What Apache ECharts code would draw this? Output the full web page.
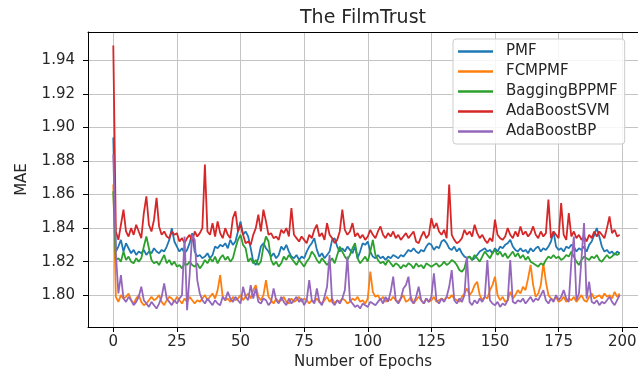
<!DOCTYPE html>
<html>
<head>
<meta charset="utf-8">
<title>The FilmTrust</title>
<script src="https://cdn.jsdelivr.net/npm/echarts@6/dist/echarts.min.js"></script>
<style>
  html, body { margin: 0; padding: 0; background: #ffffff; }
  #chart { width: 638px; height: 371px; }
</style>
</head>
<body>
<div id="chart"></div>
<script>
// MAE per training epoch (0..199) for each method on FilmTrust
const seriesNames = ['PMF', 'FCMPMF', 'BaggingBPPMF', 'AdaBoostSVM', 'AdaBoostBP'];
const seriesColors = ['#1f77b4', '#ff7f0e', '#2ca02c', '#d62728', '#9467bd'];

const pmf = [
  1.894, 1.826, 1.829, 1.833, 1.826, 1.831, 1.828, 1.825, 1.827, 1.824,
  1.826, 1.825, 1.827, 1.824, 1.826, 1.825, 1.828, 1.826, 1.825, 1.827,
  1.826, 1.829, 1.833, 1.840, 1.832, 1.829, 1.826, 1.828, 1.825, 1.827,
  1.831, 1.837, 1.826, 1.823, 1.824, 1.822, 1.823, 1.825, 1.822, 1.824,
  1.829, 1.828, 1.830, 1.829, 1.831, 1.828, 1.833, 1.830, 1.832, 1.838,
  1.844, 1.836, 1.838, 1.835, 1.828, 1.820, 1.818, 1.822, 1.829, 1.831,
  1.828, 1.826, 1.823, 1.825, 1.822, 1.824, 1.829, 1.827, 1.830, 1.826,
  1.823, 1.822, 1.824, 1.821, 1.823, 1.822, 1.826, 1.829, 1.831, 1.834,
  1.827, 1.823, 1.825, 1.822, 1.824, 1.826, 1.833, 1.834, 1.829, 1.826,
  1.828, 1.826, 1.829, 1.827, 1.825, 1.829, 1.822, 1.826, 1.831, 1.830,
  1.832, 1.826, 1.823, 1.822, 1.824, 1.822, 1.823, 1.821, 1.823, 1.822,
  1.824, 1.823, 1.822, 1.824, 1.823, 1.825, 1.827, 1.826, 1.828, 1.826,
  1.825, 1.827, 1.826, 1.829, 1.831, 1.830, 1.827, 1.829, 1.828, 1.832,
  1.833, 1.831, 1.828, 1.827, 1.829, 1.826, 1.828, 1.825, 1.823, 1.822,
  1.823, 1.821, 1.822, 1.824, 1.826, 1.827, 1.828, 1.826, 1.827, 1.825,
  1.828, 1.826, 1.829, 1.828, 1.830, 1.831, 1.833, 1.829, 1.827, 1.826,
  1.828, 1.826, 1.827, 1.825, 1.828, 1.826, 1.828, 1.829, 1.826, 1.828,
  1.827, 1.829, 1.832, 1.838, 1.829, 1.827, 1.828, 1.826, 1.829, 1.828,
  1.830, 1.829, 1.826, 1.828, 1.827, 1.829, 1.826, 1.830, 1.832, 1.836,
  1.840, 1.835, 1.829, 1.826, 1.827, 1.825, 1.826, 1.824, 1.826, 1.825
];

const fcmpmf = [
  1.866, 1.799, 1.796, 1.800, 1.798, 1.799, 1.801, 1.797, 1.795, 1.798,
  1.800, 1.796, 1.794, 1.795, 1.797, 1.799, 1.797, 1.798, 1.800, 1.796,
  1.794, 1.797, 1.799, 1.798, 1.796, 1.799, 1.797, 1.795, 1.798, 1.796,
  1.799, 1.797, 1.795, 1.797, 1.796, 1.798, 1.800, 1.797, 1.799, 1.801,
  1.798, 1.803, 1.812, 1.799, 1.797, 1.798, 1.796, 1.799, 1.797, 1.798,
  1.800, 1.797, 1.799, 1.801, 1.798, 1.803, 1.806, 1.799, 1.797, 1.800,
  1.809, 1.799, 1.797, 1.795, 1.798, 1.796, 1.797, 1.799, 1.796, 1.795,
  1.798, 1.796, 1.797, 1.799, 1.796, 1.798, 1.797, 1.795, 1.797, 1.796,
  1.798, 1.796, 1.795, 1.797, 1.799, 1.796, 1.798, 1.795, 1.797, 1.796,
  1.798, 1.797, 1.795, 1.796, 1.798, 1.797, 1.799, 1.796, 1.797, 1.795,
  1.798, 1.814, 1.802, 1.799, 1.800, 1.797, 1.799, 1.796, 1.798, 1.797,
  1.799, 1.797, 1.796, 1.798, 1.800, 1.796, 1.797, 1.799, 1.795, 1.797,
  1.799, 1.797, 1.795, 1.798, 1.796, 1.797, 1.799, 1.796, 1.797, 1.798,
  1.797, 1.799, 1.798, 1.800, 1.798, 1.797, 1.796, 1.799, 1.801, 1.804,
  1.800, 1.802, 1.806, 1.808, 1.800, 1.797, 1.799, 1.798, 1.803, 1.806,
  1.811, 1.800, 1.797, 1.799, 1.796, 1.797, 1.802, 1.798, 1.800, 1.803,
  1.801, 1.805, 1.803, 1.810, 1.818, 1.806, 1.799, 1.801, 1.806, 1.819,
  1.808, 1.800, 1.798, 1.797, 1.799, 1.796, 1.797, 1.799, 1.796, 1.798,
  1.797, 1.799, 1.796, 1.798, 1.800, 1.797, 1.796, 1.799, 1.801, 1.798,
  1.799, 1.800, 1.798, 1.801, 1.799, 1.800, 1.798, 1.802, 1.799, 1.801
];

const baggingBPPMF = [
  1.862, 1.821, 1.822, 1.820, 1.826, 1.821, 1.823, 1.820, 1.819, 1.822,
  1.820, 1.822, 1.829, 1.835, 1.828, 1.821, 1.819, 1.820, 1.818, 1.821,
  1.824, 1.819, 1.821, 1.818, 1.820, 1.817, 1.818, 1.816, 1.819, 1.818,
  1.820, 1.818, 1.817, 1.819, 1.816, 1.818, 1.821, 1.819, 1.822, 1.820,
  1.823, 1.819, 1.822, 1.824, 1.821, 1.823, 1.820, 1.822, 1.828, 1.833,
  1.836, 1.830, 1.828, 1.820, 1.822, 1.819, 1.821, 1.818, 1.820, 1.829,
  1.835, 1.832, 1.821, 1.818, 1.820, 1.817, 1.819, 1.823, 1.821, 1.824,
  1.822, 1.820, 1.818, 1.821, 1.819, 1.817, 1.820, 1.822, 1.826, 1.824,
  1.821, 1.819, 1.822, 1.820, 1.818, 1.820, 1.822, 1.819, 1.824, 1.829,
  1.826, 1.823, 1.821, 1.824, 1.828, 1.831, 1.822, 1.819, 1.821, 1.823,
  1.820, 1.826, 1.833, 1.824, 1.821, 1.819, 1.820, 1.818, 1.821, 1.819,
  1.817, 1.819, 1.818, 1.816, 1.818, 1.817, 1.819, 1.818, 1.816, 1.819,
  1.817, 1.818, 1.816, 1.819, 1.818, 1.817, 1.818, 1.819, 1.817, 1.818,
  1.820, 1.818, 1.819, 1.821, 1.820, 1.818, 1.815, 1.814, 1.816, 1.822,
  1.823, 1.821, 1.824, 1.822, 1.820, 1.823, 1.826, 1.824, 1.822, 1.825,
  1.827, 1.824, 1.826, 1.823, 1.825, 1.822, 1.824, 1.826, 1.823, 1.825,
  1.822, 1.824, 1.821, 1.823, 1.820, 1.819, 1.818, 1.817, 1.819, 1.818,
  1.821, 1.823, 1.822, 1.824, 1.822, 1.823, 1.821, 1.822, 1.824, 1.823,
  1.826, 1.823, 1.820, 1.818, 1.821, 1.823, 1.822, 1.821, 1.823, 1.822,
  1.824, 1.821, 1.820, 1.822, 1.824, 1.822, 1.823, 1.825, 1.824, 1.825
];

const adaBoostSVM = [
  1.949, 1.838, 1.833, 1.842, 1.851, 1.838, 1.835, 1.840, 1.836, 1.842,
  1.838, 1.834, 1.849, 1.859, 1.842, 1.838, 1.845, 1.858, 1.841, 1.836,
  1.838, 1.835, 1.834, 1.838, 1.836, 1.837, 1.832, 1.834, 1.831, 1.834,
  1.836, 1.832, 1.838, 1.835, 1.837, 1.840, 1.878, 1.838, 1.836, 1.843,
  1.835, 1.844, 1.837, 1.834, 1.840, 1.836, 1.834, 1.846, 1.850, 1.838,
  1.842, 1.836, 1.831, 1.832, 1.830, 1.836, 1.840, 1.848, 1.838, 1.851,
  1.844, 1.836, 1.837, 1.834, 1.835, 1.833, 1.839, 1.837, 1.840, 1.835,
  1.852, 1.836, 1.834, 1.832, 1.835, 1.833, 1.831, 1.836, 1.834, 1.839,
  1.842, 1.835, 1.837, 1.833, 1.843, 1.836, 1.834, 1.831, 1.833, 1.838,
  1.851, 1.839, 1.836, 1.838, 1.843, 1.835, 1.837, 1.834, 1.836, 1.833,
  1.835, 1.839, 1.836, 1.834, 1.838, 1.841, 1.836, 1.834, 1.837, 1.835,
  1.838, 1.834, 1.836, 1.833, 1.835, 1.837, 1.834, 1.836, 1.838, 1.832,
  1.831, 1.835, 1.838, 1.834, 1.836, 1.846, 1.840, 1.843, 1.838, 1.836,
  1.839, 1.834, 1.866, 1.836, 1.833, 1.831, 1.832, 1.834, 1.839, 1.836,
  1.838, 1.835, 1.842, 1.837, 1.834, 1.836, 1.833, 1.831, 1.834, 1.832,
  1.845, 1.836, 1.834, 1.833, 1.835, 1.840, 1.836, 1.834, 1.838, 1.835,
  1.841, 1.836, 1.838, 1.835, 1.837, 1.841, 1.836, 1.834, 1.838, 1.835,
  1.837, 1.857, 1.834, 1.838, 1.836, 1.834, 1.855, 1.836, 1.833, 1.849,
  1.835, 1.838, 1.834, 1.836, 1.833, 1.835, 1.832, 1.836, 1.834, 1.838,
  1.835, 1.838, 1.836, 1.834, 1.840, 1.847, 1.837, 1.839, 1.835, 1.836
];

const adaBoostBP = [
  1.884, 1.825, 1.801, 1.812, 1.798, 1.796, 1.799, 1.797, 1.794, 1.796,
  1.799, 1.805, 1.797, 1.795, 1.793, 1.796, 1.794, 1.792, 1.795, 1.799,
  1.807, 1.798, 1.796, 1.794, 1.797, 1.795, 1.798, 1.800, 1.835, 1.791,
  1.812, 1.836, 1.833, 1.809, 1.801, 1.797, 1.795, 1.798, 1.796, 1.794,
  1.797, 1.795, 1.794, 1.799, 1.797, 1.802, 1.798, 1.796, 1.799, 1.797,
  1.795, 1.805, 1.799, 1.797, 1.806, 1.798, 1.804, 1.796, 1.795, 1.798,
  1.797, 1.794, 1.796, 1.804, 1.797, 1.795, 1.799, 1.796, 1.794, 1.798,
  1.795, 1.797, 1.799, 1.796, 1.798, 1.794, 1.797, 1.809, 1.797, 1.795,
  1.804, 1.796, 1.794, 1.799, 1.805, 1.824, 1.796, 1.794, 1.797, 1.795,
  1.798, 1.803, 1.823, 1.797, 1.795, 1.793, 1.794, 1.792, 1.795, 1.794,
  1.793, 1.796, 1.795, 1.794, 1.796, 1.798, 1.795, 1.799, 1.796, 1.802,
  1.811, 1.797, 1.795, 1.798, 1.804, 1.806, 1.811, 1.797, 1.795, 1.799,
  1.805, 1.797, 1.795, 1.798, 1.796, 1.799, 1.813, 1.797, 1.795, 1.798,
  1.796, 1.799, 1.805, 1.815, 1.797, 1.795, 1.798, 1.796, 1.800, 1.823,
  1.796, 1.794, 1.797, 1.795, 1.798, 1.796, 1.799, 1.821, 1.797, 1.795,
  1.794, 1.796, 1.793, 1.795, 1.794, 1.797, 1.821, 1.796, 1.795, 1.797,
  1.796, 1.798, 1.795, 1.797, 1.799, 1.796, 1.798, 1.797, 1.800, 1.803,
  1.797, 1.795, 1.798, 1.796, 1.800, 1.797, 1.799, 1.803, 1.798, 1.796,
  1.820, 1.835, 1.797, 1.801, 1.822, 1.843, 1.798, 1.808, 1.796, 1.795,
  1.797, 1.794, 1.796, 1.795, 1.797, 1.799, 1.796, 1.794, 1.797, 1.800
];

const xTickValues = [0, 25, 50, 75, 100, 125, 150, 175, 200];
const yTickValues = [1.80, 1.82, 1.84, 1.86, 1.88, 1.90, 1.92, 1.94];

const allSeries = [pmf, fcmpmf, baggingBPPMF, adaBoostSVM, adaBoostBP];

const FONT = 'DejaVu Sans';
const TEXT_COLOR = '#262626';

// x range: the plot runs to the right edge of the page, no right spine shown
const X_MIN = -9.94;
const X_MAX = 206.2;

const chart = echarts.init(document.getElementById('chart'), null, { renderer: 'canvas' });

const frameLine = { show: true, onZero: false, lineStyle: { color: '#000', width: 1 } };
const axisTickStyle = { show: true, inside: false, length: 5, lineStyle: { color: '#000', width: 1 } };
const gridLineStyle = { show: true, lineStyle: { color: '#c4c4c4', width: 1 } };

chart.setOption({
  animation: false,
  backgroundColor: '#ffffff',
  grid: {
    left: 88, top: 32, right: 0, height: 295,
    outerBoundsMode: 'none',
    containLabel: false,
    show: false
  },
  legend: {
    orient: 'vertical',
    left: 453, top: 39,
    padding: [5, 7, 5, 5],
    itemGap: 5,
    itemWidth: 35,
    itemHeight: 2.5,
    icon: 'rect',
    selectedMode: false,
    backgroundColor: 'rgba(255,255,255,0.85)',
    borderColor: '#cccccc',
    borderWidth: 1,
    borderRadius: 3,
    textStyle: { fontFamily: FONT, fontSize: 15, lineHeight: 15, color: TEXT_COLOR, padding: [0, 0, 0, 8] },
    data: seriesNames
  },
  xAxis: [
    {
      type: 'value', min: X_MIN, max: X_MAX,
      name: 'Number of Epochs', nameLocation: 'middle', nameGap: 27,
      nameTextStyle: { fontFamily: FONT, fontSize: 15, color: TEXT_COLOR },
      axisLine: frameLine,
      axisTick: Object.assign({ customValues: xTickValues }, axisTickStyle),
      axisLabel: { customValues: xTickValues, margin: 8, fontFamily: FONT, fontSize: 15, color: TEXT_COLOR },
      splitLine: gridLineStyle
    },
    {
      // top spine; its name is the chart title, centred over the plot
      type: 'value', position: 'top', min: X_MIN, max: X_MAX,
      name: 'The FilmTrust', nameLocation: 'middle', nameGap: 4,
      nameTextStyle: { fontFamily: FONT, fontSize: 19, color: TEXT_COLOR },
      axisLine: frameLine, axisTick: { show: false }, axisLabel: { show: false }, splitLine: { show: false }
    }
  ],
  yAxis: {
    type: 'value', min: 1.781, max: 1.957,
    name: 'MAE', nameLocation: 'middle', nameGap: 58,
    nameTextStyle: { fontFamily: FONT, fontSize: 15, color: TEXT_COLOR },
    axisLine: frameLine,
    axisTick: Object.assign({ customValues: yTickValues }, axisTickStyle),
    axisLabel: {
      customValues: yTickValues, margin: 13, fontFamily: FONT, fontSize: 15, color: TEXT_COLOR,
      formatter: v => v.toFixed(2)
    },
    splitLine: gridLineStyle
  },
  series: seriesNames.map((name, k) => ({
    name: name,
    type: 'line',
    xAxisIndex: 0,
    showSymbol: false,
    symbol: 'none',
    color: seriesColors[k],
    lineStyle: { color: seriesColors[k], width: 1.8 },
    data: allSeries[k].map((v, i) => [i, v])
  }))
});
</script>
</body>
</html>
